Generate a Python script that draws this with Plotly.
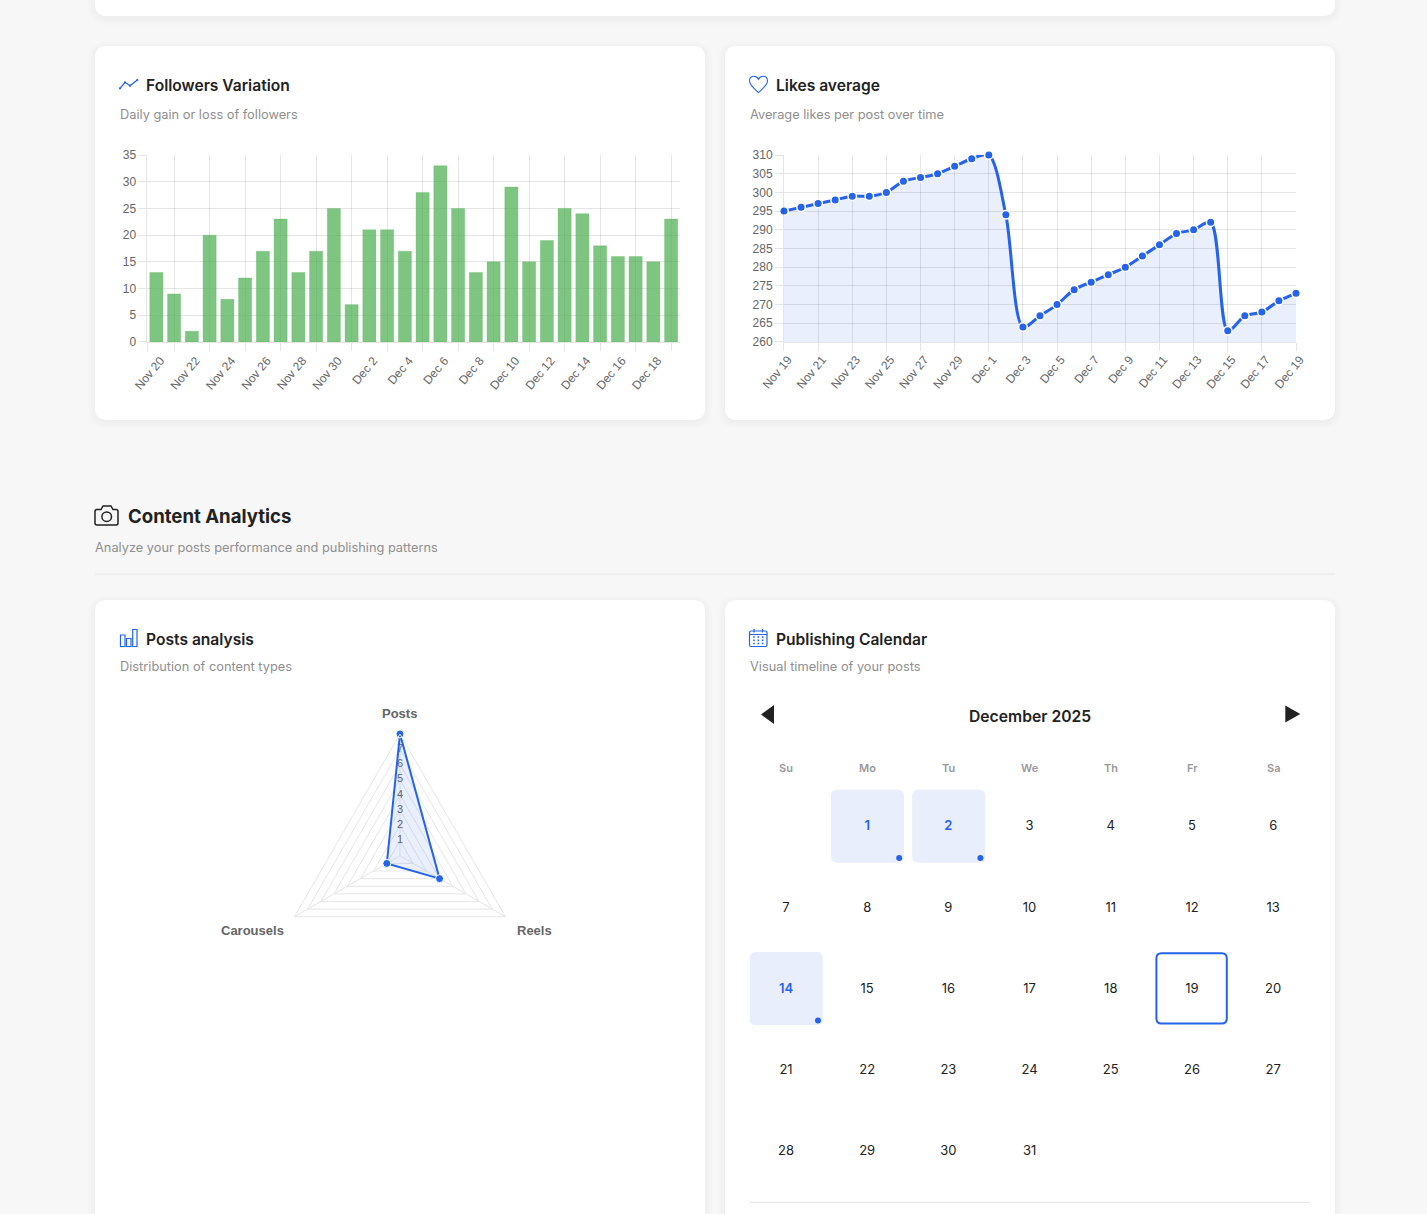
#!/usr/bin/env python3
# -*- coding: utf-8 -*-
"""Instagram analytics dashboard section: followers, likes, posts radar, calendar"""

import re

import plotly.graph_objects as go

W, H = 1427, 1214

BLUE = "#2563eb"
DARK = "#222222"
MUTED = "#8f8f8f"
GRID = "rgba(0,0,0,0.1)"
TICK = "#666666"

# Followers Variation
follower_days = ["Nov 20", "Nov 21", "Nov 22", "Nov 23", "Nov 24", "Nov 25", "Nov 26", "Nov 27", "Nov 28", "Nov 29",
                 "Nov 30", "Dec 1", "Dec 2", "Dec 3", "Dec 4", "Dec 5", "Dec 6", "Dec 7", "Dec 8", "Dec 9",
                 "Dec 10", "Dec 11", "Dec 12", "Dec 13", "Dec 14", "Dec 15", "Dec 16", "Dec 17", "Dec 18", "Dec 19"]
follower_gain = [13, 9, 2, 20, 8, 12, 17, 23, 13, 17, 25, 7, 21, 21, 17, 28, 33, 25, 13, 15,
                 29, 15, 19, 25, 24, 18, 16, 16, 15, 23]

# Likes average
likes_days = ["Nov 19"] + follower_days
likes_avg = [295, 296, 297, 298, 299, 299, 300, 303, 304, 305, 307, 309, 310, 294, 264, 267,
             270, 274, 276, 278, 280, 283, 286, 289, 290, 292, 263, 267, 268, 271, 273]

# Posts analysis
post_types = ["Posts", "Reels", "Carousels"]
post_counts = [8, 3, 1]
radial_ticks = [1, 2, 3, 4, 5, 6, 7]

# Publishing calendar
weekdays = ["Su", "Mo", "Tu", "We", "Th", "Fr", "Sa"]
month_title = "December 2025"
first_weekday = 1
days_in_month = 31
post_days = [1, 2, 14]
today = 19


def px(x):
    return round(x / W, 5)


def py(y):
    return round(1 - y / H, 5)


def path(d):
    """SVG path written in page pixels -> paper coordinates"""
    res = []
    is_x = True
    for tok in re.findall(r"[A-Za-z]|-?\d+\.?\d*", d):
        if tok.isalpha():
            res.append(tok)
        else:
            res.append(str(px(float(tok))) if is_x else str(py(float(tok))))
            is_x = not is_x
    return " ".join(res)


def rounded(x0, y0, x1, y1, r):
    return (f"M {x0 + r} {y0} L {x1 - r} {y0} Q {x1} {y0} {x1} {y0 + r} L {x1} {y1 - r} Q {x1} {y1} {x1 - r} {y1} "
            f"L {x0 + r} {y1} Q {x0} {y1} {x0} {y1 - r} L {x0} {y0 + r} Q {x0} {y0} {x0 + r} {y0} Z")


shapes = []
annotations = []


def add_path(d, fill=None, line=None, width=1.5):
    shapes.append(dict(type="path", xref="paper", yref="paper", layer="below", path=path(d),
                       fillcolor=fill or "rgba(0,0,0,0)",
                       line=dict(color=line or "rgba(0,0,0,0)", width=width if line else 0)))


def add_circle(cx, cy, r, fill=None, line=None, width=1.5):
    shapes.append(dict(type="circle", xref="paper", yref="paper", layer="below",
                       x0=px(cx - r), x1=px(cx + r), y0=py(cy + r), y1=py(cy - r),
                       fillcolor=fill or "rgba(0,0,0,0)",
                       line=dict(color=line or "rgba(0,0,0,0)", width=width if line else 0)))


def add_text(x, y, text, size=13, color=DARK, weight=400, anchor="left", family="Inter"):
    annotations.append(dict(xref="paper", yref="paper", x=px(x), y=py(y), text=text, showarrow=False,
                            xanchor=anchor, yanchor="middle", borderpad=0,
                            font=dict(family=family, size=size, color=color, weight=weight)))


def add_card(x0, y0, x1, y1):
    # soft shadow then the white card
    for grow in (7, 5, 3, 1):
        add_path(rounded(x0 - grow, y0 - grow + 2, x1 + grow, y1 + grow + 2, 12 + grow), fill="rgba(0,0,0,0.006)")
    add_path(rounded(x0, y0, x1, y1, 12), fill="#ffffff")


# cards
add_card(95, -40, 1335, 16)
add_card(95, 46, 705, 420)
add_card(725, 46, 1335, 420)
add_card(95, 600, 705, 1260)
add_card(725, 600, 1335, 1260)

# card headers
add_text(145, 85, "Followers Variation", 15.6, DARK, 600)
add_text(119, 114.6, "Daily gain or loss of followers", 12.8, MUTED)
add_text(775, 85, "Likes average", 15.6, DARK, 600)
add_text(749, 114.6, "Average likes per post over time", 12.8, MUTED)
add_text(127, 516, "Content Analytics", 18.6, DARK, 700)
add_text(94, 547.4, "Analyze your posts performance and publishing patterns", 12.8, MUTED)
add_text(145, 639.5, "Posts analysis", 15.6, DARK, 600)
add_text(119, 666.5, "Distribution of content types", 12.8, MUTED)
add_text(775, 639.5, "Publishing Calendar", 15.6, DARK, 600)
add_text(749, 666.5, "Visual timeline of your posts", 12.8, MUTED)

# section divider
add_path("M 95 574 L 1335 574", line="#e6e6e6", width=1)

# icons
add_path("M 120 88.3 L 125 82.3 L 130 85.7 L 137.3 80", line=BLUE, width=1.3)
for nx, ny in [(120, 88.3), (125, 82.3), (130, 85.7), (137.3, 80)]:
    add_circle(nx, ny, 1.1, fill=BLUE)
add_path("M 758.5 92.5 C 754 88.5 749.5 85 749.5 81 C 749.5 78 751.5 76.3 754 76.3 C 756 76.3 757.5 77.3 758.5 79.3 "
         "C 759.5 77.3 761 76.3 763 76.3 C 765.5 76.3 767.5 78 767.5 81 C 767.5 85 763 88.5 758.5 92.5 Z",
         line=BLUE, width=1.1)
add_path("M 97 509.5 L 101 509.5 L 103 506 L 111 506 L 113 509.5 L 116 509.5 Q 118 509.5 118 511.5 L 118 523 "
         "Q 118 525 116 525 L 97 525 Q 95 525 95 523 L 95 511.5 Q 95 509.5 97 509.5 Z", line=DARK, width=1.5)
add_circle(106.7, 516.7, 4.8, line=DARK)
for x0, y0, x1 in [(120.5, 635, 125), (126.5, 638.5, 131), (132.7, 629.5, 137)]:
    add_path(f"M {x0} {y0} L {x1} {y0} L {x1} 646.5 L {x0} 646.5 Z", line=BLUE, width=1.2)
add_path(rounded(749.5, 631, 767, 646.5, 1.5), line=BLUE, width=1.2)
add_path("M 749.5 634.5 L 767 634.5", line=BLUE, width=1)
add_path("M 754 629 L 754 632.5", line=BLUE, width=1.2)
add_path("M 762.5 629 L 762.5 632.5", line=BLUE, width=1.2)
for dy in (637, 640.3, 643.5):
    for dx in (754, 758.3, 762.6):
        add_path(f"M {dx - 0.8} {dy - 0.8} L {dx + 0.8} {dy - 0.8} L {dx + 0.8} {dy + 0.8} L {dx - 0.8} {dy + 0.8} Z",
                 fill=BLUE)

# calendar header
add_path("M 761 714.5 L 774 705 L 774 724 Z", fill=DARK)
add_path("M 1285.3 705.5 L 1300.3 714 L 1285.3 722.5 Z", fill=DARK)
add_text(1030.5, 716.4, month_title, 15.7, DARK, 600, "center")
add_path("M 750 1202.5 L 1310 1202.5", line="#e6e6e6", width=1)

fig = go.Figure()

# --- bar chart ---
bar_x = list(range(len(follower_days)))
fig.add_trace(go.Bar(x=bar_x, y=follower_gain, width=0.74, xaxis="x", yaxis="y",
                     marker=dict(color="rgba(76,175,80,0.72)", line=dict(color="rgba(76,175,80,0.25)", width=1))))

# --- line chart ---
line_x = list(range(len(likes_days)))
fig.add_trace(go.Scatter(x=line_x, y=likes_avg, xaxis="x2", yaxis="y2", mode="lines+markers", fill="tozeroy",
                         fillcolor="rgba(37,99,235,0.1)", cliponaxis=False,
                         line=dict(color=BLUE, width=3, shape="spline", smoothing=0.85),
                         marker=dict(color=BLUE, size=8.5, line=dict(color="#ffffff", width=1.5))))

# --- radar ---
fig.add_trace(go.Scatterpolar(r=radial_ticks, theta=[post_types[0]] * len(radial_ticks), mode="text",
                              text=[str(v) for v in radial_ticks], subplot="polar",
                              textfont=dict(family="Liberation Sans", size=11, color=TICK), cliponaxis=False))
fig.add_trace(go.Scatterpolar(r=post_counts + post_counts[:1], theta=post_types + post_types[:1], mode="lines",
                              fill="toself", fillcolor="rgba(37,99,235,0.1)", subplot="polar", cliponaxis=False,
                              line=dict(color=BLUE, width=2)))
fig.add_trace(go.Scatterpolar(r=post_counts, theta=post_types, mode="markers", subplot="polar", cliponaxis=False,
                              marker=dict(color=BLUE, size=8, line=dict(color="#ffffff", width=1))))
add_text(399.5, 713.5, post_types[0], 13, TICK, 700, "center", "Liberation Sans")
add_text(534.5, 930.5, post_types[1], 13, TICK, 700, "center", "Liberation Sans")
add_text(252.5, 930.5, post_types[2], 13, TICK, 700, "center", "Liberation Sans")

# --- calendar ---
CAL_X0, PITCH_X = 786 - 40.6, 81.2
CAL_Y0, PITCH_Y = 827 - 40.6, 81.25
cells = [((first_weekday + d - 1) % 7, (first_weekday + d - 1) // 7) for d in range(1, days_in_month + 1)]
plain = [d for d in range(1, days_in_month + 1) if d not in post_days]

for i, name in enumerate(weekdays):
    add_text(CAL_X0 + PITCH_X * (i + 0.5), 768.5, name, 11, "#999999", 600, "center")

for d in post_days:
    c, r = cells[d - 1]
    cx, cy = CAL_X0 + PITCH_X * (c + 0.5) + 0.3, 826.3 + 81.05 * r
    add_path(rounded(cx - 36.5, cy - 36.5, cx + 36.5, cy + 36.5, 6), fill="#e8eefc")
c, r = cells[today - 1]
cx, cy = CAL_X0 + PITCH_X * (c + 0.5) - 0.4, 826.3 + 81.05 * r
add_path(rounded(cx - 35.2, cy - 35.2, cx + 35.2, cy + 35.2, 5), line=BLUE, width=2)

fig.add_trace(go.Scatter(x=[cells[d - 1][0] for d in plain], y=[cells[d - 1][1] for d in plain],
                         text=[str(d) for d in plain], mode="text", xaxis="x3", yaxis="y3",
                         textfont=dict(family="Inter", size=13, color=DARK)))
fig.add_trace(go.Scatter(x=[cells[d - 1][0] for d in post_days], y=[cells[d - 1][1] for d in post_days],
                         text=[str(d) for d in post_days], mode="text", xaxis="x3", yaxis="y3",
                         textfont=dict(family="Inter", size=13, color=BLUE, weight=600)))
fig.add_trace(go.Scatter(x=[cells[d - 1][0] + 0.394 for d in post_days], y=[cells[d - 1][1] + 0.381 for d in post_days],
                         mode="markers", xaxis="x3", yaxis="y3", marker=dict(color=BLUE, size=6)))

tick_font = dict(family="Liberation Sans", size=12, color=TICK)
axis_common = dict(showline=True, linecolor=GRID, linewidth=1, ticks="outside", ticklen=8, tickcolor=GRID, tickwidth=1,
                   tickfont=tick_font, gridcolor=GRID, gridwidth=1, zeroline=False, fixedrange=True)

fig.update_layout(
    template="none",
    width=W, height=H, autosize=False,
    margin=dict(l=0, r=0, t=0, b=0, pad=0),
    paper_bgcolor="#f7f7f7", plot_bgcolor="rgba(0,0,0,0)",
    showlegend=False, hovermode=False,
    shapes=shapes, annotations=annotations,
    xaxis=dict(domain=[px(147.5), px(680)], range=[-0.5, len(follower_days) - 0.5], anchor="y",
               tickmode="array", tickvals=bar_x[::2], ticktext=follower_days[::2], tickangle=-50,
               showgrid=False, showline=True, linecolor=GRID, ticks="", tickfont=tick_font,
               ticklabelstandoff=6, ticklabelshift=4, zeroline=False, fixedrange=True,
               minor=dict(tickmode="array", tickvals=[-0.5] + bar_x[1::2],
                          showgrid=True, gridcolor=GRID, gridwidth=1, ticks="outside", ticklen=8, tickcolor=GRID)),
    yaxis=dict(domain=[py(342), py(155)], range=[0, 35], dtick=5, anchor="x", showgrid=True, **axis_common),
    xaxis2=dict(domain=[px(784), px(1296)], range=[0, len(likes_days) - 1], anchor="y2",
                tickmode="array", tickvals=line_x[::2], ticktext=likes_days[::2], tickangle=-50,
                ticklabelstandoff=-3, ticklabelshift=4, showgrid=True, **axis_common),
    yaxis2=dict(domain=[py(342), py(155)], range=[260, 310], dtick=5, anchor="x2", showgrid=True, **axis_common),
    xaxis3=dict(domain=[px(CAL_X0), px(CAL_X0 + 7 * PITCH_X)], range=[-0.5, 6.5], anchor="y3", visible=False,
                fixedrange=True),
    yaxis3=dict(domain=[py(CAL_Y0 + 5 * PITCH_Y), py(CAL_Y0)], range=[4.5, -0.5], anchor="x3", visible=False,
                fixedrange=True),
    polar=dict(
        domain=dict(x=[px(400 - 121.8), px(400 + 121.8)], y=[py(855.8 + 121.8), py(855.8 - 121.8)]),
        gridshape="linear", bgcolor="rgba(0,0,0,0)",
        radialaxis=dict(range=[0, 8], dtick=1, angle=90, showticklabels=False, ticks="", showline=False,
                        gridcolor="#e6e6e6", gridwidth=1),
        angularaxis=dict(categoryorder="array", categoryarray=post_types, direction="clockwise", rotation=90,
                         showticklabels=False, ticks="", showline=True, linecolor="#e6e6e6", gridcolor="#e6e6e6"),
    ),
)

fig.write_html("out.html", config={"displayModeBar": False},
               post_script="document.body.style.margin='0';document.body.style.overflow='hidden';")
